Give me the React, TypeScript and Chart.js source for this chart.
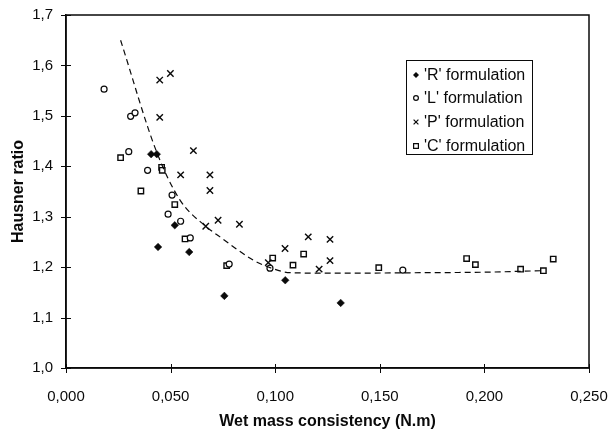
import React, { useEffect, useRef } from "react";
import { Chart, registerables } from "chart.js";

Chart.register(...registerables);

const rX = [0.0407, 0.0434, 0.044, 0.052, 0.0589, 0.0757, 0.1048, 0.1313];
const rY = [1.424, 1.424, 1.24, 1.283, 1.23, 1.143, 1.174, 1.129];

const lX = [0.0182, 0.0309, 0.033, 0.03, 0.039, 0.0507, 0.0488, 0.0548, 0.0594, 0.078, 0.0975, 0.161];
const lY = [1.553, 1.499, 1.506, 1.429, 1.392, 1.343, 1.305, 1.291, 1.258, 1.206, 1.198, 1.194];

const pX = [0.0448, 0.0499, 0.0448, 0.0609, 0.0548, 0.0688, 0.0688, 0.0668, 0.0727, 0.0829, 0.0967, 0.1047, 0.1158, 0.1262, 0.1262, 0.121];
const pY = [1.571, 1.584, 1.497, 1.431, 1.383, 1.383, 1.352, 1.281, 1.293, 1.285, 1.209, 1.237, 1.26, 1.255, 1.213, 1.196];

const cX = [0.0261, 0.0358, 0.0457, 0.046, 0.052, 0.0569, 0.0768, 0.0988, 0.1085, 0.1136, 0.1495, 0.1915, 0.1957, 0.2173, 0.2282, 0.2329];
const cY = [1.417, 1.351, 1.398, 1.392, 1.324, 1.256, 1.203, 1.218, 1.204, 1.226, 1.199, 1.217, 1.205, 1.196, 1.193, 1.216];

const fitX = [0.0261, 0.043, 0.0545, 0.0668, 0.0736, 0.0895, 0.0975, 0.1071, 0.13, 0.17, 0.2, 0.228];
const fitY = [1.65, 1.432, 1.333, 1.281, 1.26, 1.214, 1.199, 1.189, 1.188, 1.189, 1.19, 1.193];

const xTicks = [0, 0.05, 0.1, 0.15, 0.2, 0.25];
const yTicks = [1.0, 1.1, 1.2, 1.3, 1.4, 1.5, 1.6, 1.7];

const legendLabels = ["'R' formulation", "'L' formulation", "'P' formulation", "'C' formulation"];

const FONT = "Arial, 'Liberation Sans', sans-serif";
const INK = "#0a0a0a";

const pts = (xs: number[], ys: number[]) => xs.map((x, i) => ({ x, y: ys[i] }));
const fmt = (v: number, d: number) => v.toFixed(d).replace(".", ",");

function drawMarker(ctx: CanvasRenderingContext2D, kind: number, x: number, y: number, s: number) {
  ctx.save();
  ctx.strokeStyle = INK;
  ctx.fillStyle = INK;
  ctx.lineWidth = 1.2;
  ctx.beginPath();
  if (kind === 0) {
    ctx.moveTo(x, y - s);
    ctx.lineTo(x + s, y);
    ctx.lineTo(x, y + s);
    ctx.lineTo(x - s, y);
    ctx.closePath();
    ctx.fill();
  } else if (kind === 1) {
    ctx.fillStyle = "#fff";
    ctx.arc(x, y, s * 0.8, 0, Math.PI * 2);
    ctx.fill();
    ctx.stroke();
  } else if (kind === 2) {
    ctx.moveTo(x - s * 0.8, y - s * 0.8);
    ctx.lineTo(x + s * 0.8, y + s * 0.8);
    ctx.moveTo(x + s * 0.8, y - s * 0.8);
    ctx.lineTo(x - s * 0.8, y + s * 0.8);
    ctx.stroke();
  } else {
    ctx.fillStyle = "#fff";
    ctx.rect(x - s * 0.8, y - s * 0.8, s * 1.6, s * 1.6);
    ctx.fill();
    ctx.stroke();
  }
  ctx.restore();
}

const framePlugin = {
  id: "frame",
  afterDatasetsDraw(chart: any) {
    const { ctx, chartArea, scales } = chart;
    const { left, right, top, bottom } = chartArea;
    ctx.save();
    ctx.strokeStyle = INK;
    ctx.lineWidth = 1.5;
    ctx.strokeRect(left, top, right - left, bottom - top);
    ctx.lineWidth = 1;
    ctx.beginPath();
    for (const v of yTicks) {
      const py = Math.round(scales.y.getPixelForValue(v)) + 0.5;
      ctx.moveTo(left - 5, py);
      ctx.lineTo(left + 5, py);
    }
    for (const v of xTicks) {
      const px = Math.round(scales.x.getPixelForValue(v)) + 0.5;
      ctx.moveTo(px, bottom - 4);
      ctx.lineTo(px, bottom + 5);
    }
    ctx.stroke();

    // legend box
    const bx = 406, by = 60, bw = 126, bh = 94;
    ctx.fillStyle = "#fff";
    ctx.fillRect(bx, by, bw, bh);
    ctx.lineWidth = 1;
    ctx.strokeRect(bx + 0.5, by + 0.5, bw, bh);
    ctx.font = "16px " + FONT;
    ctx.textBaseline = "middle";
    ctx.textAlign = "left";
    const ys = [75, 98, 122, 146];
    legendLabels.forEach((t, i) => {
      drawMarker(ctx, i, 416, ys[i], 3);
      ctx.fillStyle = INK;
      ctx.fillText(t, 424, ys[i] + 1);
    });
    ctx.restore();
  },
};

const zeroPad = (s: any) => {
  s.paddingLeft = 0;
  s.paddingRight = 0;
  s.paddingTop = 0;
  s.paddingBottom = 0;
};

export default function App() {
  const ref = useRef<HTMLCanvasElement>(null);
  useEffect(() => {
    if (!ref.current) return;
    const chart = new Chart(ref.current, {
      type: "scatter",
      data: {
        datasets: [
          {
            type: "line",
            label: "fit",
            data: pts(fitX, fitY),
            borderColor: INK,
            borderWidth: 1.2,
            borderDash: [6, 4],
            pointRadius: 0,
            cubicInterpolationMode: "monotone",
            fill: false,
          } as any,
          {
            label: legendLabels[0],
            data: pts(rX, rY),
            pointStyle: "rectRot",
            pointRadius: 3.8,
            backgroundColor: INK,
            borderColor: INK,
            borderWidth: 0.5,
          },
          {
            label: legendLabels[1],
            data: pts(lX, lY),
            pointStyle: "circle",
            pointRadius: 3,
            backgroundColor: "#fff",
            borderColor: INK,
            borderWidth: 1.2,
          },
          {
            label: legendLabels[2],
            data: pts(pX, pY),
            pointStyle: "crossRot",
            pointRadius: 4.5,
            backgroundColor: INK,
            borderColor: INK,
            borderWidth: 1.4,
          },
          {
            label: legendLabels[3],
            data: pts(cX, cY),
            pointStyle: "rect",
            pointRadius: 3.8,
            backgroundColor: "#fff",
            borderColor: INK,
            borderWidth: 1.4,
          },
        ],
      },
      options: {
        animation: false,
        responsive: false,
        maintainAspectRatio: false,
        devicePixelRatio: 1,
        layout: { padding: { top: 15, right: 21, left: 0, bottom: 0 } },
        plugins: { legend: { display: false }, tooltip: { enabled: false } },
        scales: {
          x: {
            type: "linear",
            min: 0,
            max: 0.25,
            afterBuildTicks: (s: any) => {
              s.ticks = xTicks.map((v) => ({ value: v }));
            },
            afterFit: (s: any) => {
              s.height = 63;
              zeroPad(s);
            },
            grid: { display: false, drawTicks: false },
            border: { display: true, color: INK, width: 1.5 },
            ticks: {
              padding: 20,
              color: INK,
              font: { family: FONT, size: 15 },
              callback: (v: any) => fmt(Number(v), 3),
            },
            title: {
              display: true,
              text: "Wet mass consistency (N.m)",
              color: INK,
              font: { family: FONT, size: 16, weight: "bold" },
              padding: { top: 0, bottom: 0 },
            },
          },
          y: {
            type: "linear",
            min: 1.0,
            max: 1.7,
            afterBuildTicks: (s: any) => {
              s.ticks = yTicks.map((v) => ({ value: v }));
            },
            afterFit: (s: any) => {
              s.width = 66;
              zeroPad(s);
            },
            grid: { display: false, drawTicks: false },
            border: { display: true, color: INK, width: 1.5 },
            ticks: {
              padding: 13,
              color: INK,
              font: { family: FONT, size: 15 },
              callback: (v: any) => fmt(Number(v), 1),
            },
            title: {
              display: true,
              text: "Hausner ratio",
              color: INK,
              font: { family: FONT, size: 16, weight: "bold" },
              padding: { top: 9, bottom: 0 },
            },
          },
        },
      },
      plugins: [framePlugin],
    });
    return () => chart.destroy();
  }, []);
  return (
    <div style={{ position: "fixed", left: 0, top: 0, width: 610, height: 431, background: "#fff" }}>
      <canvas ref={ref} width={610} height={431} style={{ width: 610, height: 431, display: "block" }} />
    </div>
  );
}
